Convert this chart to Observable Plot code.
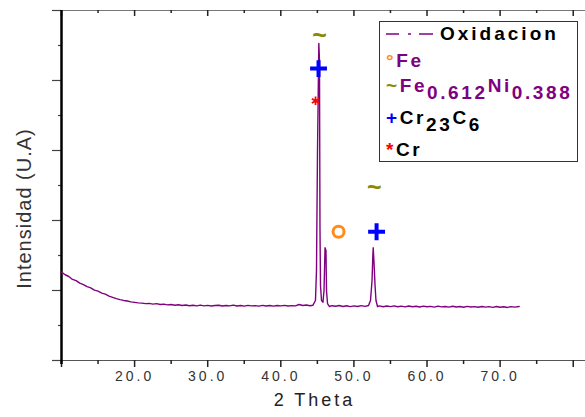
<!DOCTYPE html>
<html><head><meta charset="utf-8">
<script src="https://cdn.jsdelivr.net/npm/d3@7"></script>
<script src="https://cdn.jsdelivr.net/npm/@observablehq/plot@0.6"></script>
<style>
body{margin:0;background:#fff;}
#wrap{position:relative;width:585px;height:417px;overflow:hidden;}
.legend{position:absolute;left:379px;top:21px;width:199px;height:141px;border:1.5px solid #333;background:#fff;
 font-family:"Liberation Sans",Arial,sans-serif;font-weight:bold;font-size:19px;letter-spacing:2.6px;box-sizing:border-box;}
.row{position:absolute;left:6px;white-space:nowrap;line-height:20px;}
.sub{position:relative;top:7px;}
</style></head>
<body>
<div id="wrap">
<div id="chart"></div>
<div class="legend">
  <div class="row" style="top:2px;left:6px;">
    <svg width="50" height="20" style="vertical-align:top"><line x1="0" y1="10" x2="13" y2="10" stroke="#800080" stroke-width="1.5"/><line x1="22" y1="10" x2="25" y2="10" stroke="#800080" stroke-width="1.5"/><line x1="33" y1="10" x2="47" y2="10" stroke="#800080" stroke-width="1.5"/></svg>
  </div>
  <div class="row" style="top:2px;left:60px;color:#000;letter-spacing:3px;">Oxidacion</div>
  <div class="row" style="top:29px;"><span style="color:#ff8c1a">°</span><span style="color:#800080">Fe</span></div>
  <div class="row" style="top:54px;"><span style="color:#8a8a00">~</span><span style="color:#800080">Fe<span class="sub">0.612</span>Ni<span class="sub">0.388</span></span></div>
  <div class="row" style="top:86px;"><span style="color:#0000ff">+</span><span style="color:#000">Cr<span class="sub">23</span>C<span class="sub">6</span></span></div>
  <div class="row" style="top:118px;"><span style="color:#ff0000">*</span><span style="color:#000">Cr</span></div>
</div>
</div>
<script>
// 2θ positions (degrees) and intensity (arbitrary units)
const theta = [10.0,10.5,11.0,11.5,12.0,12.5,13.0,13.5,14.0,14.5,15.0,15.5,16.0,16.5,17.0,17.5,18.0,18.5,19.0,19.5,
 20.0,20.5,21.0,21.5,22.0,22.5,23.0,23.5,24.0,24.5,25.0,25.5,26.0,26.5,27.0,27.5,28.0,28.5,29.0,29.5,
 30.0,30.5,31.0,31.5,32.0,32.5,33.0,33.5,34.0,34.5,35.0,35.5,36.0,36.5,37.0,37.5,38.0,38.5,39.0,39.5,
 40.0,40.5,41.0,41.5,42.0,42.5,43.0,43.5,44.0,44.4,44.74,44.88,45.02,45.2,45.29,45.36,45.43,45.57,45.77,45.91,
 46.05,46.18,46.25,46.39,46.66,47.0,47.5,48.0,48.5,49.0,49.5,50.0,50.5,51.0,51.5,52.0,52.27,52.48,52.59,52.64,
 52.75,52.89,53.02,53.23,53.5,54.0,54.5,55.0,55.5,56.0,56.5,57.0,57.5,58.0,58.5,59.0,59.5,60.0,60.5,61.0,
 61.5,62.0,62.5,63.0,63.5,64.0,64.5,65.0,65.5,66.0,66.5,67.0,67.5,68.0,68.5,69.0,69.5,70.0,70.5,71.0,
 71.5,72.0,72.6];
const intensity = [1.262,1.225,1.200,1.158,1.140,1.105,1.085,1.055,1.038,1.005,0.990,0.962,0.948,0.920,0.902,0.885,0.870,0.858,0.850,0.838,
 0.830,0.823,0.820,0.812,0.816,0.806,0.812,0.800,0.806,0.795,0.800,0.790,0.796,0.786,0.793,0.782,0.790,0.781,0.792,0.780,
 0.788,0.779,0.786,0.790,0.778,0.786,0.780,0.792,0.778,0.785,0.776,0.788,0.780,0.784,0.776,0.787,0.779,0.785,0.776,0.786,
 0.780,0.788,0.779,0.784,0.780,0.800,0.786,0.792,0.782,0.790,0.857,1.286,3.0,4.53,4.29,1.886,1.071,0.857,0.833,1.0,
 1.61,1.571,1.0,0.814,0.771,0.783,0.775,0.786,0.772,0.782,0.770,0.780,0.772,0.784,0.774,0.786,0.857,1.143,1.5,1.61,
 1.4,1.071,0.857,0.771,0.780,0.768,0.778,0.770,0.781,0.768,0.776,0.766,0.779,0.768,0.775,0.764,0.777,0.767,0.774,0.763,
 0.776,0.766,0.772,0.762,0.775,0.765,0.771,0.761,0.774,0.764,0.770,0.760,0.772,0.762,0.769,0.759,0.771,0.761,0.768,0.758,
 0.770,0.762,0.772];

// phase markers
const feX = [47.9], feY = [1.84];               // ° Fe
const feNiX = [45.3, 52.8], feNiY = [4.63, 2.47]; // ~ Fe0.612Ni0.388
const crcX = [45.16, 53.1], crcY = [4.17, 1.84];  // + Cr23C6
const crX = [44.75], crY = [3.71];              // * Cr

// ticks
const xMajor = [10,20,30,40,50,60,70,80];
const xLabels = ["","20.0","30.0","40.0","50.0","60.0","70.0",""];
const xMinor = [15,25,35,45,55,65,75];
const yMajor = [0,1,2,3,4,5];
const yMinor = [0.5,1.5,2.5,3.5,4.5];

const data = theta.map((t,i)=>({t, v: intensity[i]}));

const chart = Plot.plot({
  width: 585, height: 417,
  marginLeft: 61, marginRight: 0, marginTop: 10, marginBottom: 57,
  x: {domain: [10, 81.68], axis: null},
  y: {domain: [0, 5], axis: null},
  style: {fontFamily: "'Liberation Sans', Arial, sans-serif", background: "white", overflow: "visible"},
  marks: [
    Plot.ruleY([0], {stroke: "#555", strokeWidth: 1.2, insetLeft: -9}),
    Plot.ruleY([5], {stroke: "#777", strokeWidth: 1.2, insetLeft: -9}),
    Plot.ruleX(xMajor, {x: d=>d, stroke: "#222", strokeWidth: 1.5, insetTop: 350, insetBottom: -7}),
    Plot.ruleX(xMinor, {x: d=>d, stroke: "#222", strokeWidth: 1.5, insetTop: 350, insetBottom: -4}),
    Plot.ruleX(xMajor, {x: d=>d, stroke: "#222", strokeWidth: 1.5, insetBottom: 344}),
    Plot.ruleX(xMinor, {x: d=>d, stroke: "#222", strokeWidth: 1.5, insetBottom: 347}),
    Plot.ruleY(yMajor, {y: d=>d, stroke: "#444", strokeWidth: 1.2, insetLeft: -9, insetRight: 524}),
    Plot.ruleY(yMinor, {y: d=>d, stroke: "#444", strokeWidth: 1.2, insetLeft: -3, insetRight: 524}),
    Plot.ruleX([10], {stroke: "#000", strokeWidth: 2.5, insetBottom: -4}),
    Plot.text(xMajor, {x: d=>d, text: (d,i)=>xLabels[i], frameAnchor: "bottom", dy: 20, fontSize: 14, fill: "#333"}),
    Plot.text(["2 Theta"], {frameAnchor: "bottom", dx: -9, dy: 45, fontSize: 18, fill: "#222"}),
    Plot.text(["Intensidad (U.A)"], {frameAnchor: "left", textAnchor: "middle", rotate: -90, dx: -37, dy: 23, fontSize: 20, fill: "#333"}),
    Plot.line(data, {x: "t", y: "v", stroke: "#800080", strokeWidth: 1.4}),
    Plot.text(feNiX, {x: d=>d, y: (d,i)=>feNiY[i], text: ()=>"~", fill: "#8a8a00", fontSize: 25, fontWeight: "bold"}),
    Plot.dot(crcX, {x: d=>d, y: (d,i)=>crcY[i], symbol: "plus", r: 5.5, stroke: "#0000ff", strokeWidth: 4}),
    Plot.dot(crX, {x: d=>d, y: (d,i)=>crY[i], symbol: "asterisk", r: 4, stroke: "#ff0000", strokeWidth: 1.8}),
    Plot.dot(feX, {x: d=>d, y: (d,i)=>feY[i], r: 5.5, stroke: "#ff8c1a", strokeWidth: 3, fill: "white"})
  ]
});
d3.select(chart).selectAll("text")
  .filter(function(){ return /^\d+\.0$/.test(this.textContent) || this.textContent === "2 Theta"; })
  .style("letter-spacing", "3px");
d3.select(chart).selectAll("text")
  .filter(function(){ return this.textContent === "Intensidad (U.A)"; })
  .style("letter-spacing", "1px");
document.getElementById("chart").appendChild(chart);
</script>
</body></html>
